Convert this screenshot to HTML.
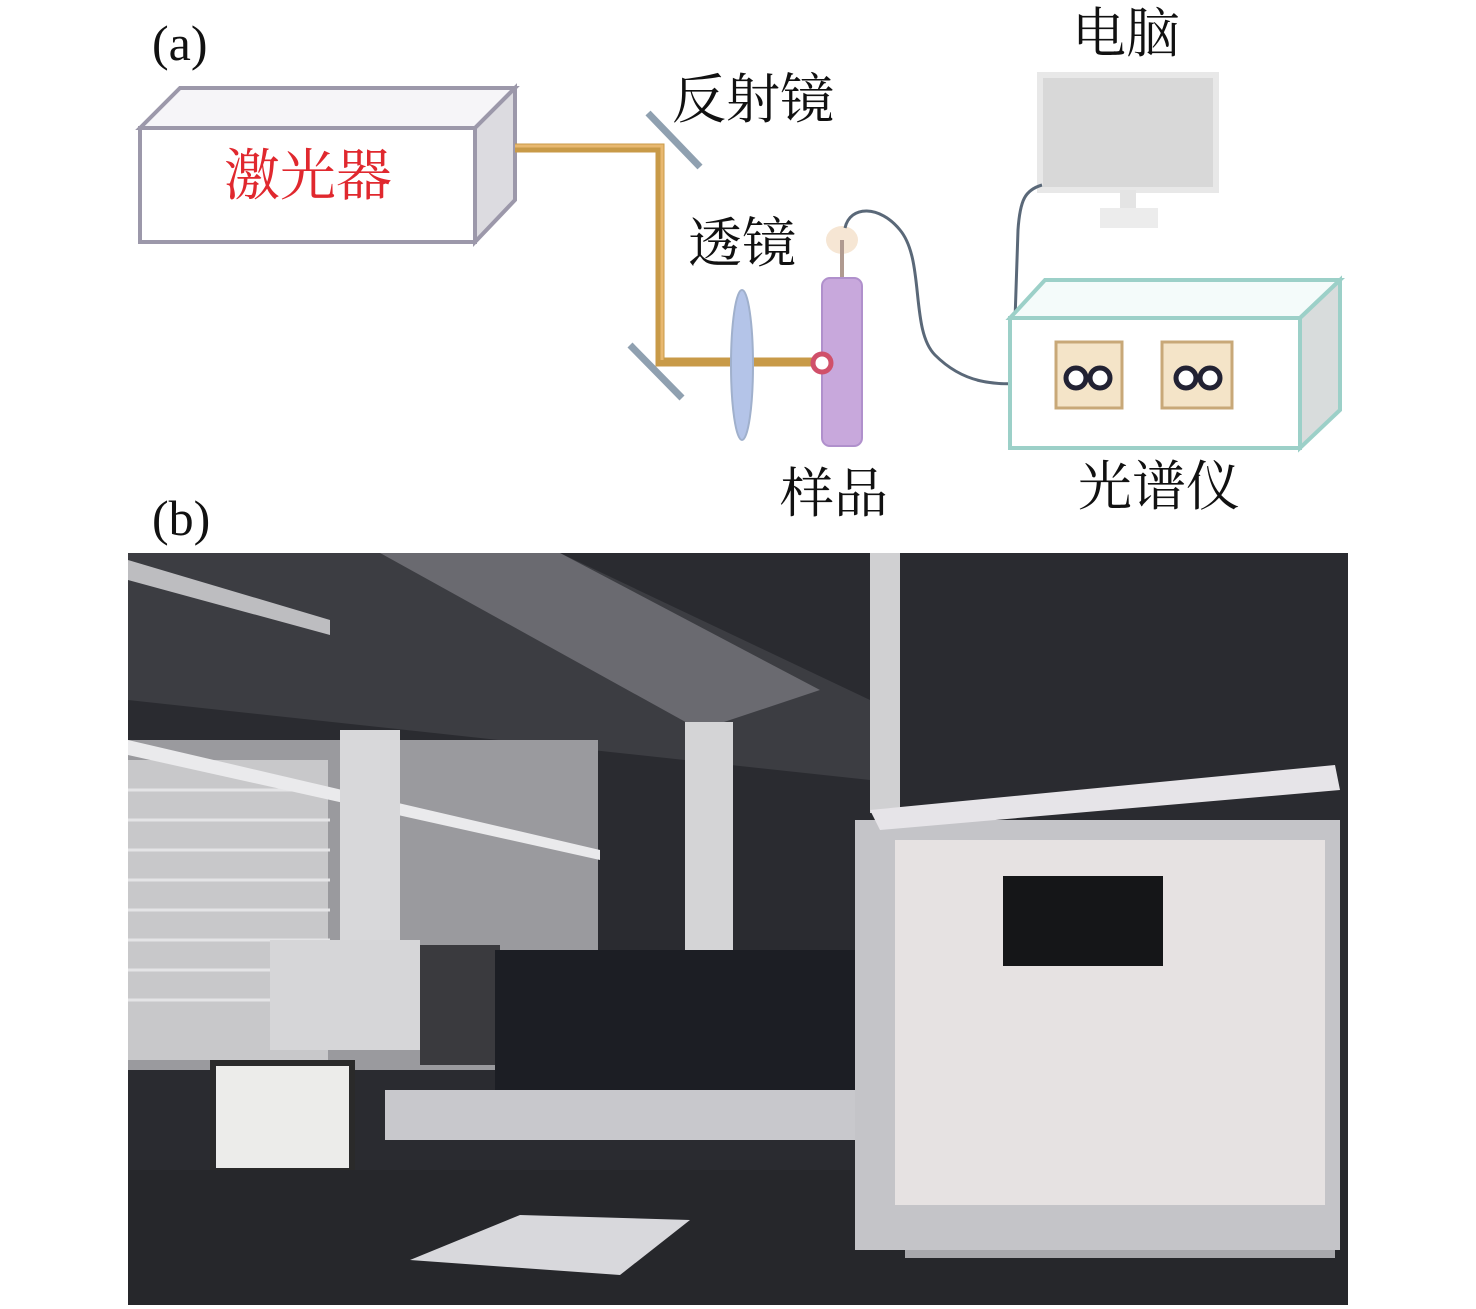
<!DOCTYPE html>
<html><head><meta charset="utf-8"><style>
html,body{margin:0;padding:0;background:#fff}
svg{display:block}
text{font-family:"Liberation Serif","Noto Serif CJK SC",serif}
</style></head><body>
<svg width="1476" height="1309" viewBox="0 0 1476 1309" xmlns="http://www.w3.org/2000/svg">
<rect width="1476" height="1309" fill="#fff"/>
<text x="152" y="60" font-size="50" fill="#111">(a)</text>
<text x="152" y="535" font-size="50" fill="#111">(b)</text>

<!-- laser box -->
<polygon points="140,128 180,88 515,88 475,128" fill="#f6f5f8" stroke="#9c98aa" stroke-width="4"/>
<polygon points="475,128 515,88 515,200 475,242" fill="#dcdbe0" stroke="#9c98aa" stroke-width="4"/>
<rect x="140" y="128" width="335" height="114" fill="#fff" stroke="#9c98aa" stroke-width="4"/>
<text x="308" y="195" font-size="56" fill="#e0282e" text-anchor="middle">激光器</text>

<!-- beam -->
<polyline points="515,148 660,148 660,362 822,362" fill="none" stroke="#c89a48" stroke-width="9"/>
<polyline points="515,146 662,146 662,360" fill="none" stroke="#e8b870" stroke-width="3"/>
<line x1="648" y1="113" x2="700" y2="167" stroke="#8fa0b0" stroke-width="7"/>
<line x1="630" y1="345" x2="682" y2="398" stroke="#8fa0b0" stroke-width="7"/>
<text x="672" y="118" font-size="54" fill="#111">反射镜</text>
<text x="688" y="262" font-size="54" fill="#111">透镜</text>

<ellipse cx="742" cy="365" rx="11" ry="75" fill="#b4c4e8" stroke="#a0b0cc" stroke-width="2"/>
<ellipse cx="842" cy="240" rx="16" ry="14" fill="#f6e6d4"/>
<line x1="842" y1="240" x2="842" y2="280" stroke="#b09a90" stroke-width="4"/>
<rect x="822" y="278" width="40" height="168" rx="8" fill="#c8a8dc" stroke="#b090cc" stroke-width="2"/>
<circle cx="822" cy="363" r="9" fill="#fff" stroke="#d0506a" stroke-width="5"/>
<path d="M845,228 C850,205 880,205 900,230 C925,260 910,330 935,355 C960,380 990,390 1050,380" fill="none" stroke="#5a6878" stroke-width="3"/>

<rect x="1040" y="75" width="176" height="115" fill="#d8d8d8" stroke="#e8e8e8" stroke-width="6"/>
<rect x="1120" y="190" width="16" height="18" fill="#e4e4e4"/>
<rect x="1100" y="208" width="58" height="20" fill="#ececec"/>
<path d="M1042,185 C1025,190 1020,200 1018,230 L1015,320 C1015,360 1030,380 1052,382" fill="none" stroke="#5a6878" stroke-width="3"/>
<text x="1072" y="52" font-size="54" fill="#111">电脑</text>

<polygon points="1010,318 1045,280 1340,280 1300,318" fill="#f4fbfa" stroke="#9cd0c8" stroke-width="4"/>
<polygon points="1300,318 1340,280 1340,410 1300,448" fill="#d8dcdc" stroke="#9cd0c8" stroke-width="4"/>
<rect x="1010" y="318" width="290" height="130" fill="#fff" stroke="#9cd0c8" stroke-width="4"/>
<rect x="1056" y="342" width="66" height="66" fill="#f4e4c8" stroke="#c8a878" stroke-width="3"/>
<rect x="1162" y="342" width="70" height="66" fill="#f4e4c8" stroke="#c8a878" stroke-width="3"/>
<circle cx="1076" cy="378" r="10" fill="#fff" stroke="#223" stroke-width="5"/>
<circle cx="1100" cy="378" r="10" fill="#fff" stroke="#223" stroke-width="5"/>
<circle cx="1186" cy="378" r="10" fill="#fff" stroke="#223" stroke-width="5"/>
<circle cx="1210" cy="378" r="10" fill="#fff" stroke="#223" stroke-width="5"/>
<text x="780" y="512" font-size="54" fill="#111">样品</text>
<text x="1078" y="505" font-size="54" fill="#111">光谱仪</text>

<g>
<rect x="128" y="553" width="1220" height="752" fill="#2a2b30"/>
<polygon points="128,553 560,553 870,700 870,780 128,700" fill="#3c3d42"/>
<polygon points="380,553 560,553 820,690 700,730" fill="#6a6a70"/>
<polygon points="128,560 330,620 330,635 128,580" fill="#bdbdc0"/>
<rect x="128" y="740" width="470" height="330" fill="#9a9a9e"/>
<rect x="128" y="760" width="200" height="300" fill="#c8c8ca"/>
<g stroke="#e4e4e6" stroke-width="3">
<line x1="128" y1="790" x2="330" y2="790"/><line x1="128" y1="820" x2="330" y2="820"/><line x1="128" y1="850" x2="330" y2="850"/><line x1="128" y1="880" x2="330" y2="880"/><line x1="128" y1="910" x2="330" y2="910"/><line x1="128" y1="940" x2="330" y2="940"/><line x1="128" y1="970" x2="330" y2="970"/><line x1="128" y1="1000" x2="330" y2="1000"/>
</g>
<polygon points="128,740 600,850 600,860 128,755" fill="#eaeaec"/>
<rect x="340" y="730" width="60" height="210" fill="#d8d8da"/>
<rect x="685" y="722" width="48" height="230" fill="#d4d4d6"/>
<rect x="870" y="553" width="30" height="260" fill="#d0d0d2"/>
<rect x="270" y="940" width="150" height="110" fill="#d6d6d8"/>
<rect x="420" y="945" width="80" height="120" fill="#3a3a3e"/>
<rect x="495" y="950" width="365" height="140" fill="#1c1e24"/>
<rect x="385" y="1090" width="480" height="50" fill="#c8c8cc"/>
<rect x="210" y="1060" width="145" height="115" fill="#2a2a2a"/>
<rect x="216" y="1066" width="133" height="102" fill="#ececea"/>
<rect x="128" y="1170" width="1220" height="135" fill="#26272b"/>
<polygon points="410,1260 520,1215 690,1220 620,1275" fill="#d8d8dc"/>
<rect x="855" y="820" width="485" height="430" fill="#c4c4c8"/>
<polygon points="870,810 1335,765 1340,790 880,830" fill="#e6e4e8"/>
<rect x="895" y="840" width="430" height="365" fill="#e6e2e2"/>
<rect x="1003" y="876" width="160" height="90" fill="#151618"/>
<rect x="905" y="1250" width="430" height="8" fill="#a8a8ac"/>
</g>
</svg>
</body></html>
